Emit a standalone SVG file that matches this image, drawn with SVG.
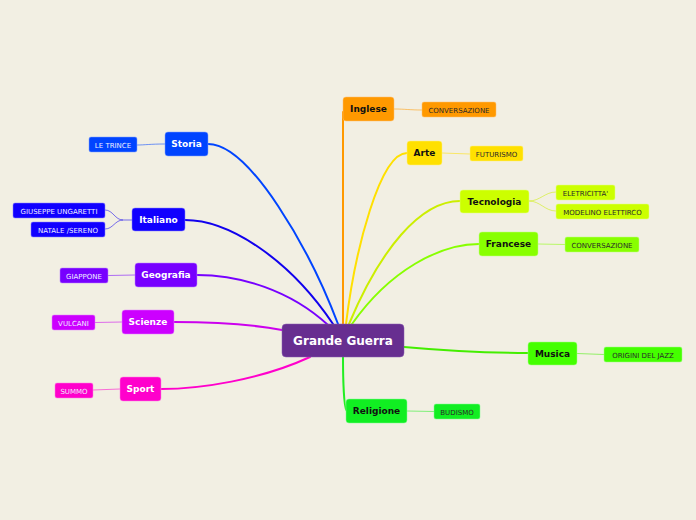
<svg xmlns="http://www.w3.org/2000/svg" width="696" height="520" viewBox="0 0 696 520">
<style>
text{font-family:"DejaVu Sans","Liberation Sans",sans-serif;text-anchor:middle}
.m{font-size:9px;font-weight:bold}
.s{font-size:7px}
.c{font-size:12px;font-weight:bold;fill:#fff}
.dk{fill:#111}
.sd{fill:#2a2a2a}
.wt{fill:#fff}
.sw{fill:#eeeeff}
.ln{fill:none;stroke-width:2;stroke-linecap:round}
.sl{fill:none;stroke-width:1;stroke-opacity:0.55}
rect{stroke-width:1;stroke-opacity:0.5}
</style>
<rect x="0" y="0" width="696" height="520" fill="#f2efe3" style="stroke:none"/>
<g id="connectors">
<path class="ln" stroke="#ff9900" d="M343,324 L343,112"/>
<path class="ln" stroke="#ffe000" d="M346,324 C355,250 380,153 407,153"/>
<path class="ln" stroke="#ccee00" d="M349,324 C380,250 420,201 460,201"/>
<path class="ln" stroke="#88ff00" d="M352,324 C390,270 440,244 479,244"/>
<path class="ln" stroke="#44ee00" d="M404,347 C460,352 490,353 528,353"/>
<path class="ln" stroke="#22ee22" d="M343,357 C343,380 344,411 347,411"/>
<path class="ln" stroke="#0044ff" d="M338,324 C310,250 250,144 208,144"/>
<path class="ln" stroke="#1100ee" d="M333,324 C290,260 230,220 185,220"/>
<path class="ln" stroke="#7700ff" d="M328,325 C290,290 240,275 197,275"/>
<path class="ln" stroke="#cc00ee" d="M282,330 C250,324 210,322 174,322"/>
<path class="ln" stroke="#ff00cc" d="M310,357 C260,380 200,389 161,389"/>
<path class="sl" stroke="#ff9900" d="M394,109 C405,109 410,110 422,110"/>
<path class="sl" stroke="#ffe000" d="M442,153 L470,154"/>
<path class="sl" stroke="#ccee00" d="M529,201 C540,201 545,192 556,192 M529,201 C540,201 545,211 556,211"/>
<path class="sl" stroke="#88ff00" d="M538,244 L565,244.5"/>
<path class="sl" stroke="#44ee00" d="M577,353.5 L604,354.5"/>
<path class="sl" stroke="#22ee22" d="M407,411 L434,411.5"/>
<path class="sl" stroke="#0044ff" d="M165,144 C150,144 145,145 137,145"/>
<path class="sl" stroke="#1100ee" d="M132,220 L123,220 C115,220 113,210 105,210 M123,220 C115,220 113,229 105,229"/>
<path class="sl" stroke="#7700ff" d="M135,275 L108,275.5"/>
<path class="sl" stroke="#cc00ee" d="M122,322 L95,322.5"/>
<path class="sl" stroke="#ff00cc" d="M120,389 L93,390"/>
</g>
<g id="center"><rect x="282" y="324" width="122" height="33" rx="4" fill="#672e90" stroke="#8a5bb0"/><text class="c" x="343" y="345">Grande Guerra</text></g>
<g id="inglese"><rect x="343" y="97" width="51" height="24" rx="3" fill="#ff9900" stroke="#ffc070"/><text class="m dk" x="368.5" y="112.2">Inglese</text></g>
<g id="inglese-conv"><rect x="422" y="102" width="74" height="15" rx="2" fill="#ff9900" stroke="#ffc070"/><text class="s sd" x="459" y="112.5">CONVERSAZIONE</text></g>
<g id="arte"><rect x="407" y="141" width="35" height="24" rx="3" fill="#ffe000" stroke="#fff080"/><text class="m dk" x="424.5" y="156.2">Arte</text></g>
<g id="futurismo"><rect x="470" y="146" width="53" height="15" rx="2" fill="#ffe000" stroke="#fff080"/><text class="s sd" x="496.5" y="156.5">FUTURISMO</text></g>
<g id="tecnologia"><rect x="460" y="190" width="69" height="23" rx="3" fill="#ccff00" stroke="#e6ff80"/><text class="m dk" x="494.5" y="204.7">Tecnologia</text></g>
<g id="elettricita"><rect x="556" y="185" width="59" height="15" rx="2" fill="#ccff00" stroke="#e6ff80"/><text class="s sd" x="585.5" y="195.5">ELETRICITTA'</text></g>
<g id="modelino"><rect x="556" y="204" width="93" height="15" rx="2" fill="#ccff00" stroke="#e6ff80"/><text class="s sd" x="602.5" y="214.5">MODELINO ELETTIRCO</text></g>
<g id="francese"><rect x="479" y="232" width="59" height="24" rx="3" fill="#88ff00" stroke="#c0ff80"/><text class="m dk" x="508.5" y="247.2">Francese</text></g>
<g id="francese-conv"><rect x="565" y="237" width="74" height="15" rx="2" fill="#88ff00" stroke="#c0ff80"/><text class="s sd" x="602" y="247.5">CONVERSAZIONE</text></g>
<g id="musica"><rect x="528" y="342" width="49" height="23" rx="3" fill="#44ff00" stroke="#a0ff80"/><text class="m dk" x="552.5" y="356.7">Musica</text></g>
<g id="jazz"><rect x="604" y="347" width="78" height="15" rx="2" fill="#44ff00" stroke="#a0ff80"/><text class="s sd" x="643" y="357.5">ORIGINI DEL JAZZ</text></g>
<g id="religione"><rect x="346" y="399" width="61" height="24" rx="3" fill="#11ee22" stroke="#80ff90"/><text class="m dk" x="376.5" y="414.2">Religione</text></g>
<g id="budismo"><rect x="434" y="404" width="46" height="15" rx="2" fill="#11ee22" stroke="#80ff90"/><text class="s sd" x="457" y="414.5">BUDISMO</text></g>
<g id="storia"><rect x="165" y="132" width="43" height="24" rx="3" fill="#0044ff" stroke="#80a0ff"/><text class="m wt" x="186.5" y="147.2">Storia</text></g>
<g id="trince"><rect x="89" y="137" width="48" height="15" rx="2" fill="#0044ff" stroke="#80a0ff"/><text class="s sw" x="113" y="147.5">LE TRINCE</text></g>
<g id="italiano"><rect x="132" y="208" width="53" height="23" rx="3" fill="#1100ff" stroke="#8880ff"/><text class="m wt" x="158.5" y="222.7">Italiano</text></g>
<g id="ungaretti"><rect x="13" y="203" width="92" height="15" rx="2" fill="#1100ff" stroke="#8880ff"/><text class="s sw" x="59" y="213.5">GIUSEPPE UNGARETTI</text></g>
<g id="natale"><rect x="31" y="222" width="74" height="15" rx="2" fill="#1100ff" stroke="#8880ff"/><text class="s sw" x="68" y="232.5">NATALE /SERENO</text></g>
<g id="geografia"><rect x="135" y="263" width="62" height="24" rx="3" fill="#7700ff" stroke="#bb80ff"/><text class="m wt" x="166" y="278.2">Geografia</text></g>
<g id="giappone"><rect x="60" y="268" width="48" height="15" rx="2" fill="#7700ff" stroke="#bb80ff"/><text class="s sw" x="84" y="278.5">GIAPPONE</text></g>
<g id="scienze"><rect x="122" y="310" width="52" height="24" rx="3" fill="#cc00ff" stroke="#e680ff"/><text class="m wt" x="148" y="325.2">Scienze</text></g>
<g id="vulcani"><rect x="52" y="315" width="43" height="15" rx="2" fill="#cc00ff" stroke="#e680ff"/><text class="s sw" x="73.5" y="325.5">VULCANI</text></g>
<g id="sport"><rect x="120" y="377" width="41" height="24" rx="3" fill="#ff00cc" stroke="#ff80e6"/><text class="m wt" x="140.5" y="392.2">Sport</text></g>
<g id="summo"><rect x="55" y="383" width="38" height="15" rx="2" fill="#ff00cc" stroke="#ff80e6"/><text class="s sw" x="74" y="393.5">SUMMO</text></g>
</svg>
